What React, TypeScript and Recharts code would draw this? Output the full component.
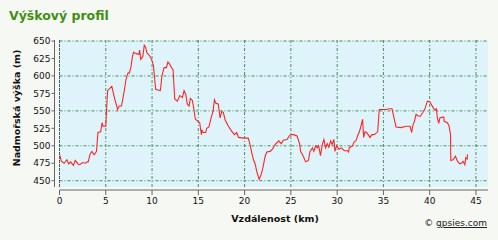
import { LineChart, Line, XAxis, YAxis, CartesianGrid, ReferenceArea, ReferenceLine } from 'recharts'

// ── Data ──────────────────────────────────────────────────────────────────────

const distKm = [
  0, 0.2, 0.5, 0.8, 1.0, 1.2, 1.5, 1.7, 2.0, 2.2, 2.5, 2.8, 3.0, 3.1, 3.3, 3.5, 3.75, 4.0, 4.15, 4.45,
  4.6, 4.7, 5.0, 5.1, 5.2, 5.35, 5.65, 5.97, 6.28, 6.45, 6.7, 7.0, 7.2, 7.4, 7.55, 7.72, 7.87, 8.0, 8.3, 8.58,
  8.66, 8.77, 9.0, 9.16, 9.3, 9.45, 9.74, 10.0, 10.15, 10.39, 10.64, 10.9, 11.07, 11.3, 11.55, 11.72, 11.9, 12.1, 12.27, 12.45,
  12.73, 13.0, 13.28, 13.46, 13.64, 13.8, 14.0, 14.14, 14.36, 14.5, 14.68, 14.97, 15.15, 15.33, 15.4, 15.55, 15.8, 15.9, 16.15, 16.38,
  16.6, 16.74, 16.9, 17.15, 17.35, 17.53, 17.7, 17.9, 18.25, 18.6, 18.9, 19.15, 19.34, 19.87, 20.4, 20.6, 20.78, 20.96, 21.14, 21.32,
  21.57, 21.79, 21.97, 22.22, 22.4, 22.76, 23.05, 23.25, 23.45, 23.7, 23.96, 24.17, 24.6, 24.8, 25.03, 25.3, 25.67, 25.94, 26.05, 26.34,
  26.6, 26.9, 27.07, 27.33, 27.49, 27.67, 27.85, 28.0, 28.2, 28.4, 28.57, 28.75, 28.93, 29.1, 29.3, 29.46, 29.65, 29.76, 29.94, 30.2,
  30.45, 30.78, 31.1, 31.24, 31.3, 31.67, 31.85, 32.03, 32.2, 32.4, 32.57, 32.75, 32.86, 33.0, 33.2, 33.4, 33.55, 33.76, 34.0, 34.38,
  34.55, 34.9, 35.28, 35.64, 35.93, 36.36, 36.9, 37.45, 37.88, 38.05, 38.17, 38.35, 38.53, 38.7, 38.97, 39.28, 39.54, 39.75, 40.0, 40.18,
  40.36, 40.54, 40.72, 40.83, 40.98, 41.1, 41.35, 41.53, 41.56, 41.92, 42.1, 42.25, 42.28, 42.53, 42.78, 43.0, 43.25, 43.43, 43.6, 43.8,
  43.9, 44.05, 44.08,
]

const elevM = [
  488, 478, 475, 480, 474, 477, 472, 479, 474, 473, 476, 475, 477, 477, 488, 492, 487, 492, 519, 520,
  533, 528, 528, 555, 579, 581, 585, 567, 552, 557, 557, 579, 596, 604, 604, 613, 627, 634, 632, 631,
  637, 624, 628, 644, 641, 633, 629, 622, 615, 581, 580, 579, 600, 612, 612, 620, 617, 612, 609, 567,
  564, 572, 569, 579, 574, 560, 557, 568, 565, 554, 538, 535, 533, 516, 522, 519, 519, 525, 527, 540,
  550, 566, 561, 560, 540, 549, 548, 537, 528, 521, 516, 519, 512, 511, 511, 501, 490, 480, 474, 463,
  452, 459, 468, 485, 491, 492, 496, 501, 504, 507, 503, 508, 509, 514, 516, 516, 514, 503, 492, 485,
  477, 479, 492, 497, 492, 500, 497, 500, 486, 502, 509, 497, 503, 498, 507, 502, 509, 492, 500, 495,
  497, 493, 493, 491, 497, 500, 506, 507, 514, 520, 528, 538, 512, 520, 519, 515, 512, 516, 516, 520,
  552, 552, 552, 553, 553, 527, 526, 528, 528, 519, 529, 535, 545, 543, 542, 548, 555, 564, 563, 559,
  555, 551, 553, 540, 532, 540, 541, 541, 535, 533, 528, 516, 479, 480, 485, 478, 474, 475, 478, 473,
  483, 481, 488,
]

const xTicks = [0, 5, 10, 15, 20, 25, 30, 35, 40, 45]
const yTicks = [450, 475, 500, 525, 550, 575, 600, 625, 650]

const data = distKm.map((km, i) => ({ km, ele: elevM[i] }))

// ── Styles ────────────────────────────────────────────────────────────────────

const FONT = '"DejaVu Sans", Verdana, sans-serif'
const tickStyle = { fontSize: 9, fill: '#111', fontFamily: FONT }

export default function App() {
  return (
    <div style={{ position: 'absolute', left: 0, top: 0, width: 498, height: 240, background: '#f6f8f3', overflow: 'hidden' }}>
      <div style={{ position: 'absolute', left: 9, top: 8, fontFamily: FONT, fontWeight: 'bold', fontSize: 12.5, color: '#3f8f14' }}>
        Výškový profil
      </div>

      <LineChart width={498} height={240} data={data} margin={{ top: 40, right: 10, bottom: 23, left: 0 }}>
        <CartesianGrid
          fill="#def4fa"
          fillOpacity={1}
          stroke="#4a8a5c"
          strokeDasharray="3 2 1 2"
          horizontalValues={yTicks}
          verticalValues={xTicks}
        />
        <ReferenceArea fill="none" stroke="#9c9c9c" strokeWidth={1} ifOverflow="visible" />
        <ReferenceLine x={0} stroke="#3a3f70" strokeDasharray="1 1" ifOverflow="visible" />
        <XAxis
          type="number"
          dataKey="km"
          domain={[0, 46.3]}
          ticks={xTicks}
          allowDataOverflow
          height={30}
          tick={tickStyle}
          tickSize={5}
          tickMargin={6}
          axisLine={{ stroke: '#666', transform: 'translate(0,3)' }}
          tickLine={{ stroke: '#666', transform: 'translate(0,3)' }}
        />
        <YAxis
          type="number"
          domain={[441, 651.5]}
          ticks={yTicks}
          allowDataOverflow
          width={59.5}
          tick={tickStyle}
          tickSize={3}
          tickMargin={6}
          axisLine={{ stroke: '#666', transform: 'translate(-5,0)' }}
          tickLine={{ stroke: '#666', transform: 'translate(-5,0)' }}
        />
        <Line
          dataKey="ele"
          type="linear"
          stroke="#ff2424"
          strokeWidth={1.1}
          dot={false}
          isAnimationActive={false}
        />
      </LineChart>

      <div style={{
        position: 'absolute', left: 15.5, top: 108, transform: 'translate(-50%, -50%) rotate(-90deg)',
        whiteSpace: 'nowrap', fontFamily: FONT, fontWeight: 'bold', fontSize: 9.5, color: '#111',
      }}>
        Nadmořská výška (m)
      </div>
      <div style={{
        position: 'absolute', left: 275, top: 218, transform: 'translate(-50%, -50%)',
        whiteSpace: 'nowrap', fontFamily: FONT, fontWeight: 'bold', fontSize: 9.5, color: '#111',
      }}>
        Vzdálenost (km)
      </div>
      <div style={{
        position: 'absolute', right: 11, top: 223, transform: 'translateY(-50%)',
        whiteSpace: 'nowrap', fontFamily: FONT, fontSize: 9, color: '#222',
      }}>
        © <span style={{ textDecoration: 'underline' }}>gpsies.com</span>
      </div>
    </div>
  )
}
